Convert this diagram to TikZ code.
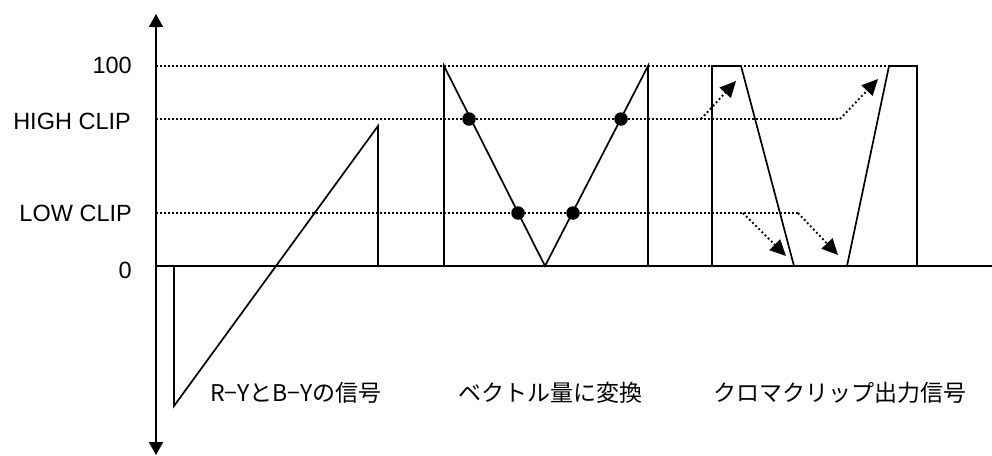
\documentclass[tikz,border=0pt]{standalone}
\usepackage{fontspec}
\setmainfont{Liberation Sans}
\newfontfamily\jpfont{Noto Sans CJK JP}
\usetikzlibrary{arrows.meta}
\tikzset{
  axisline/.style={line width=1.8pt},
  sigline/.style={line width=1.7pt, line join=miter},
  levelline/.style={line width=1.4pt, dash pattern=on 1.6pt off 2.4pt},
  cliparrow/.style={line width=1.9pt, dash pattern=on 1.8pt off 2.6pt, -{Triangle[length=16pt,width=15pt]}},
  levellabel/.style={anchor=east, inner sep=0pt, font=\fontsize{23.5}{24}\selectfont},
  caption/.style={anchor=west, inner sep=0pt, font=\jpfont\fontsize{23}{24}\selectfont},
  ptdot/.style={circle, fill=black, minimum size=13.5pt, inner sep=0pt}
}
\begin{document}
\begin{tikzpicture}[x=1pt,y=-1pt]
\useasboundingbox (0,0) rectangle (992,455);
% axes
\coordinate (ytop) at (156,14);
\coordinate (ybot) at (156,455);
\coordinate (xl) at (156,266);
\coordinate (xr) at (992,266);
\draw[axisline, {Triangle[length=13pt,width=14pt]}-{Triangle[length=13pt,width=14pt]}] (ybot) -- (ytop);
\draw[axisline] (xl) -- (xr);
% level lines
\coordinate (l100a) at (156,66);  \coordinate (l100b) at (917,66);
\coordinate (lhia) at (156,119);  \coordinate (lhib) at (840,119);
\coordinate (lloa) at (156,213);  \coordinate (llob) at (798,213);
\draw[levelline] (l100a) -- (l100b);
\draw[levelline] (lhia) -- (lhib);
\draw[levelline] (lloa) -- (llob);
% level labels
\node[levellabel] (t100) at (132,65) {100};
\node[levellabel] (thi) at (131,121) {HIGH CLIP};
\node[levellabel] (tlo) at (132,213) {LOW CLIP};
\node[levellabel] (t0) at (132,270) {0};
% R-Y signal
\coordinate (ra) at (174,266);
\coordinate (rb) at (174,406);
\coordinate (rc) at (378,126);
\coordinate (rd) at (378,266);
\draw[sigline] (ra) -- (rb) -- (rc) -- (rd);
% vector magnitude
\coordinate (va) at (444,266);
\coordinate (vb) at (444,66);
\coordinate (vc) at (545,266);
\coordinate (vd) at (648,66);
\coordinate (ve) at (648,266);
\draw[sigline] (va) -- (vb) -- (vc) -- (vd) -- (ve);
\node[ptdot] (d1) at (469,119) {};
\node[ptdot] (d2) at (518,213) {};
\node[ptdot] (d3) at (573,213) {};
\node[ptdot] (d4) at (621,119) {};
% chroma clip output
\coordinate (ca) at (712,266);
\coordinate (cb) at (712,66);
\coordinate (cc) at (741,66);
\coordinate (cd) at (794,266);
\coordinate (ce) at (847,266);
\coordinate (cf) at (889,66);
\coordinate (cg) at (917,66);
\coordinate (ch) at (917,266);
\draw[sigline] (ca) -- (cb) -- (cc) -- (cd);
\draw[sigline] (ce) -- (cf) -- (cg) -- (ch);
% clip arrows
\coordinate (a1s) at (701,119); \coordinate (a1e) at (736,81);
\coordinate (a2e) at (878,79);
\coordinate (a3s) at (743,213); \coordinate (a3e) at (786,256);
\coordinate (a4e) at (838,255);
\draw[cliparrow] (a1s) -- (a1e);
\draw[cliparrow] (lhib) -- (a2e);
\draw[cliparrow] (a3s) -- (a3e);
\draw[cliparrow] (llob) -- (a4e);
% captions
\node[caption] (c1) at (210,393) {R−YとB−Yの信号};
\node[caption] (c2) at (458,393) {ベクトル量に変換};
\node[caption] (c3) at (713,393) {クロマクリップ出力信号};
\end{tikzpicture}
\end{document}
